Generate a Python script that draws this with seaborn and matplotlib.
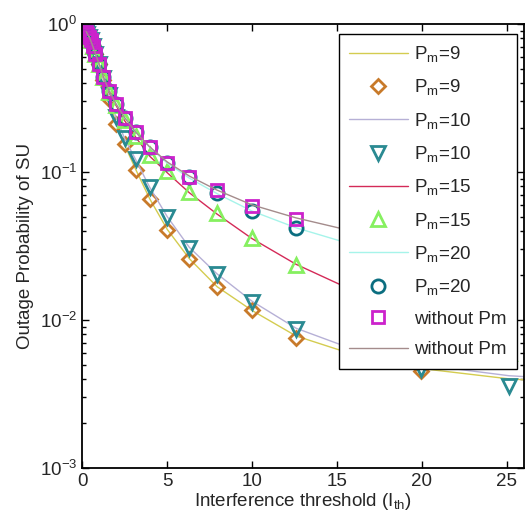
import matplotlib
matplotlib.use('Agg')
import matplotlib.pyplot as plt
import seaborn as sns
import pandas as pd
from matplotlib.ticker import LogLocator, FixedLocator

# Eje x: umbral de interferencia (puntos de simulacion)
ith_sim = [0.251, 0.316, 0.398, 0.501, 0.631, 0.794,
           1.0, 1.259, 1.585, 1.995, 2.512, 3.162, 3.981, 5.012, 6.31, 7.943,
           10.0, 12.59, 15.85, 19.95, 25.12]
# las curvas de Pm=9 y Pm=10 llegan mas alla del eje
ith_long = ith_sim + [31.62]

# Simulacion (marcadores); None = punto no visible en la figura
sim_pm9 = [0.88, 0.86, 0.82, 0.78, 0.71, 0.63,
           0.54, 0.42, 0.31, 0.21, 0.154, 0.103, 0.066, 0.0405, 0.026, 0.0167,
           0.0117, 0.0075, 0.0057, 0.0045, None]
sim_pm10 = [0.88, 0.86, 0.82, 0.78, 0.71, 0.63,
            0.54, 0.43, 0.33, 0.235, 0.17, 0.122, 0.0796, 0.0499, 0.0308, 0.0204,
            0.0133, 0.00865, 0.0062, 0.0047, 0.0036]
sim_pm15 = [0.88, 0.86, 0.82, 0.78, 0.71, 0.63,
            0.54, 0.44, 0.35, 0.285, 0.225, 0.175, 0.13, 0.1015, 0.0736, 0.0531,
            0.036, 0.0235, 0.0155, 0.0100, 0.0060]
sim_pm20 = [0.88, 0.86, 0.82, 0.78, 0.71, 0.63,
            0.54, 0.44, 0.355, 0.29, 0.233, 0.186, 0.148, 0.1156, 0.0925, 0.0725,
            0.0545, 0.0417, 0.032, 0.0245, 0.0185]
sim_nopm = [0.88, 0.86, 0.82, 0.78, 0.71, 0.63,
            0.54, 0.44, 0.355, 0.29, 0.233, 0.186, 0.148, 0.116, 0.093, 0.0752,
            0.059, 0.048, 0.040, 0.033, 0.027]

# Teoria (lineas)
th_pm9 = [0.89, 0.86, 0.825, 0.78, 0.71, 0.63,
          0.54, 0.42, 0.31, 0.215, 0.152, 0.104, 0.066, 0.041, 0.026, 0.0168,
          0.0116, 0.0078, 0.0059, 0.0047, 0.0040, 0.0036]
th_pm10 = [0.89, 0.86, 0.825, 0.78, 0.71, 0.63,
           0.54, 0.43, 0.33, 0.235, 0.168, 0.121, 0.079, 0.050, 0.031, 0.0205,
           0.0134, 0.0088, 0.0064, 0.0050, 0.0042, 0.0038]
th_pm15 = [0.89, 0.86, 0.825, 0.78, 0.71, 0.63,
           0.54, 0.44, 0.35, 0.283, 0.222, 0.172, 0.128, 0.099, 0.0725, 0.052,
           0.0355, 0.0238, 0.016, 0.0103, 0.0064]
th_pm20 = [0.89, 0.86, 0.825, 0.78, 0.71, 0.63,
           0.54, 0.44, 0.355, 0.29, 0.233, 0.186, 0.147, 0.115, 0.091, 0.0715,
           0.0545, 0.042, 0.0325, 0.025, 0.019]
th_nopm = [0.89, 0.86, 0.825, 0.78, 0.71, 0.63,
           0.54, 0.44, 0.355, 0.29, 0.233, 0.186, 0.148, 0.117, 0.094, 0.0755,
           0.060, 0.049, 0.040, 0.0325, 0.0265]

labels = [r'P$_\mathrm{m}$=9', r'P$_\mathrm{m}$=10', r'P$_\mathrm{m}$=15',
          r'P$_\mathrm{m}$=20', 'without Pm']

sns.set_style('ticks')
plt.rcParams['font.family'] = ['Liberation Sans', 'DejaVu Sans']
plt.rcParams['mathtext.fontset'] = 'custom'
plt.rcParams['mathtext.rm'] = 'Liberation Sans'
plt.rcParams['mathtext.it'] = 'Liberation Sans:italic'
plt.rcParams['font.size'] = 13.5

fig = plt.figure(figsize=(5.27, 5.24), dpi=100)
ax = fig.add_axes([0.1556, 0.107, 0.8387, 0.847])


def theory(x, y, color, label):
    d = pd.DataFrame({'x': x, 'y': y})
    sns.lineplot(data=d, x='x', y='y', ax=ax, color=color, lw=1.0,
                 sort=False, estimator=None, label=label)


def sim(y, color, marker, ms, label):
    d = pd.DataFrame({'x': ith_sim, 'y': y}).dropna()
    sns.lineplot(data=d, x='x', y='y', ax=ax, sort=False, estimator=None,
                 linestyle='', marker=marker, markersize=ms,
                 markerfacecolor='none', markeredgecolor=color, mew=2.0,
                 color=color, label=label)


theory(ith_long, th_pm9, '#d4cc50', labels[0])
sim(sim_pm9, '#c87a2a', 'D', 7.5, labels[0])
theory(ith_long, th_pm10, '#b6b0d6', labels[1])
sim(sim_pm10, '#2a8a92', 'v', 10.5, labels[1])
theory(ith_sim, th_pm15, '#d42a58', labels[2])
sim(sim_pm15, '#86f060', '^', 10.5, labels[2])
theory(ith_sim, th_pm20, '#a6f4ea', labels[3])
sim(sim_pm20, '#0b6e80', 'o', 9.5, labels[3])
sim(sim_nopm, '#cc22cc', 's', 8.5, labels[4])
theory(ith_sim, th_nopm, '#a48c8c', labels[4])

ax.set_yscale('log')
ax.set_xlim(0, 26)
ax.set_ylim(1e-3, 1)
ax.xaxis.set_major_locator(FixedLocator([0, 5, 10, 15, 20, 25]))
ax.yaxis.set_major_locator(LogLocator(base=10, numticks=10))
ax.yaxis.set_minor_locator(LogLocator(base=10, subs=range(2, 10), numticks=10))
ax.tick_params(which='both', direction='in', top=True, right=True,
               labelsize=13.5, width=1, color='black')
ax.tick_params(which='major', length=5)
ax.tick_params(which='minor', length=3)
for s in ax.spines.values():
    s.set_linewidth(1.3)
    s.set_color('black')

ax.set_xlabel(r'Interference threshold (I$_\mathrm{th}$)', fontsize=13.5, labelpad=1)
ax.set_ylabel('Outage Probability of SU', fontsize=13.5, labelpad=4)

leg = ax.legend(loc='upper right', bbox_to_anchor=(0.984, 0.978),
                fontsize=13.5, frameon=True, fancybox=False,
                framealpha=1, edgecolor='black', handlelength=3.1,
                handletextpad=0.35, labelspacing=0.71, borderaxespad=0.0,
                borderpad=0.55, numpoints=1)
leg.get_frame().set_linewidth(1.0)

fig.savefig('out.png', dpi=100)
